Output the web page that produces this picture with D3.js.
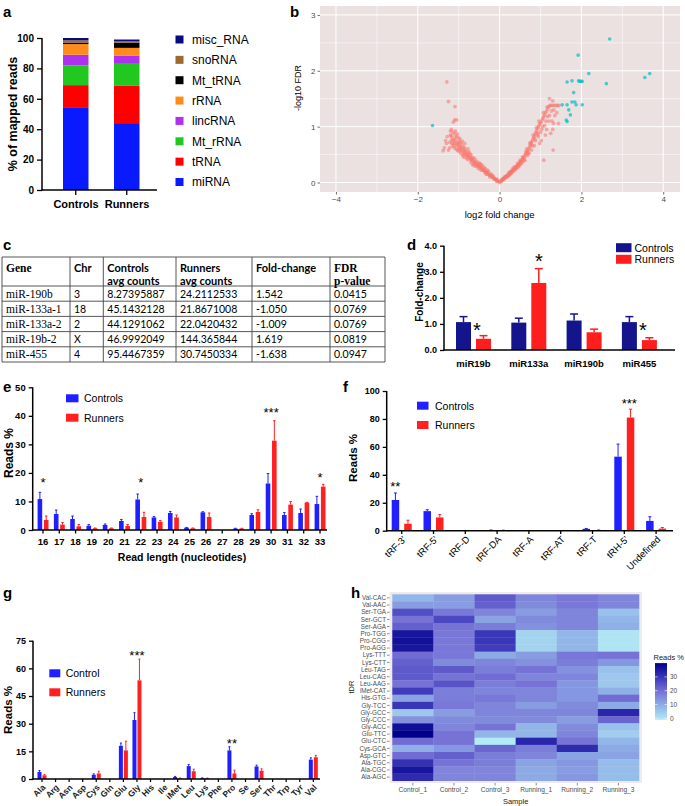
<!DOCTYPE html>
<html><head><meta charset="utf-8">
<script src="https://cdn.jsdelivr.net/npm/d3@7"></script>
<style>body{margin:0;background:#fff}svg{display:block}</style>
</head><body><svg id="c" width="685" height="806"></svg>
<script>
// ---------- DATA ----------
// panel a
const aCategories = ["Controls", "Runners"];
const aTypes = ["miRNA", "tRNA", "Mt_rRNA", "lincRNA", "rRNA", "Mt_tRNA", "snoRNA", "misc_RNA"];
const aControls = [54, 15, 13, 7, 7, 1, 1.5, 1.5];
const aRunners = [44, 24.5, 14.5, 5.5, 5, 3.5, 1, 1];
const aColors = ["#0a1aff", "#ff0000", "#20c820", "#b030f0", "#ff8c1a", "#000000", "#9c6a2a", "#0a0a80"];
const aTicks = [0, 20, 40, 60, 80, 100];

// panel b (volcano): [log2 fold change, -log10 FDR]
const bRed = [
 [0,0],[-0.03,0.02],[-0.06,0.03],[-0.09,0.05],[-0.11,0.07],[-0.13,0.06],[-0.15,0.09],[-0.17,0.1],[-0.19,0.1],[-0.21,0.12],
 [-0.23,0.14],[-0.25,0.13],[-0.27,0.16],[-0.29,0.15],[-0.31,0.18],[-0.33,0.19],[-0.35,0.2],[-0.36,0.18],[-0.38,0.22],[-0.4,0.23],
 [-0.42,0.22],[-0.44,0.26],[-0.46,0.27],[-0.48,0.26],[-0.5,0.29],[-0.52,0.31],[-0.54,0.3],[-0.56,0.34],[-0.58,0.33],[-0.6,0.36],
 [-0.62,0.37],[-0.63,0.34],[-0.65,0.4],[-0.67,0.39],[-0.69,0.42],[-0.71,0.41],[-0.72,0.46],[-0.74,0.44],[-0.76,0.48],[-0.78,0.47],
 [-0.8,0.51],[-0.82,0.49],[-0.84,0.55],[-0.86,0.52],[-0.88,0.58],[-0.9,0.55],[-0.92,0.61],[-0.94,0.57],[-0.96,0.63],[-0.98,0.66],
 [-1.0,0.62],[-1.02,0.68],[-1.04,0.72],[-1.06,0.66],[-1.08,0.75],[-1.1,0.7],[-1.12,0.77],[-1.14,0.74],[-1.16,0.81],[-1.18,0.76],
 [-1.2,0.85],[-1.05,0.83],[-1.1,0.87],[-1.22,0.72],[-1.25,0.58],[-1.35,0.62],[-1.38,0.57],[-1.2,0.92],[-1.13,1.08],[-1.05,1.12],
 [-1.1,1.12],[-1.09,1.36],[-1.25,1.45],[-1.29,1.8],[-0.95,0.72],[-0.85,0.62],[-0.7,0.5],[-0.55,0.38],[-0.45,0.32],[-0.66,0.32],
 [-0.78,0.41],[-0.9,0.48],[-1.0,0.56],[-1.15,0.65],[-1.3,0.7],[-0.3,0.22],[-0.2,0.15],[-0.38,0.27],[-0.75,0.55],[-0.83,0.58],
 [-0.93,0.68],[-1.18,0.95],[-1.08,0.92],[-1.28,0.82],[-0.64,0.44],[-0.57,0.29],[-0.48,0.34],[-0.87,0.45],[-0.99,0.74],[-1.06,0.6],
 [-0.6,0.42],[-0.62,0.3],[-0.7,0.36],[-0.73,0.52],[-0.77,0.6],[-0.81,0.44],[-0.85,0.7],[-0.88,0.5],[-0.91,0.74],[-0.95,0.52],
 [-0.97,0.78],[-1.01,0.7],[-1.03,0.58],[-1.07,0.8],[-1.11,0.62],[-1.17,0.7],[-1.19,0.84],[-1.22,0.62],[-1.32,0.75],[-0.52,0.25],
 [-0.5,0.34],[-0.45,0.22],[-0.42,0.3],[-0.35,0.25],[-0.33,0.15],[-0.27,0.2],[-0.24,0.1],[-0.16,0.12],[-0.14,0.07],[-0.08,0.06],
 [-0.07,0.02],[-0.04,0.04],[-0.68,0.45],[-0.79,0.53],[-0.89,0.64],[-0.97,0.59],[-1.12,0.68],[-1.0,0.8],[-1.03,0.87],[-1.14,0.9],
 [0.03,0.02],[0.05,0.04],[0.07,0.05],[0.09,0.06],[0.11,0.08],[0.13,0.08],[0.15,0.1],[0.17,0.11],[0.19,0.13],[0.21,0.14],
 [0.23,0.15],[0.25,0.17],[0.27,0.18],[0.29,0.2],[0.31,0.21],[0.33,0.22],[0.35,0.24],[0.37,0.26],[0.39,0.27],[0.41,0.29],
 [0.43,0.3],[0.45,0.32],[0.47,0.33],[0.49,0.36],[0.51,0.37],[0.53,0.39],[0.55,0.41],[0.57,0.43],[0.59,0.45],[0.61,0.47],
 [0.63,0.5],[0.65,0.52],[0.67,0.55],[0.69,0.57],[0.71,0.6],[0.73,0.63],[0.75,0.66],[0.77,0.69],[0.79,0.73],[0.81,0.77],
 [0.83,0.8],[0.85,0.83],[0.87,0.87],[0.89,0.9],[0.91,0.93],[0.93,0.97],[0.95,1.0],[0.97,1.03],[0.99,1.06],[1.01,1.08],
 [1.04,1.12],[1.06,1.15],[1.08,1.18],[1.1,1.21],[1.12,1.25],[1.15,1.28],[1.18,1.32],[1.2,1.36],[1.23,1.38],[1.26,1.38],
 [1.3,1.38],[1.34,1.38],[1.38,1.38],[1.42,1.38],[1.45,1.38],[1.22,1.5],[1.3,1.46],[1.32,1.06],[1.31,0.58],[1.08,0.4],
 [1.44,1.06],[1.3,0.95],[1.2,1.1],[1.35,1.2],[1.25,0.88],[1.15,0.95],[0.85,0.66],[0.95,0.82],[0.78,0.58],[0.68,0.48],
 [0.58,0.38],[0.48,0.3],[0.38,0.23],[0.28,0.16],[0.62,0.4],[0.72,0.52],[0.88,0.75],[1.0,0.9],[1.1,1.02],[0.2,0.11],
 [0.42,0.26],[0.52,0.33],[0.66,0.6],[0.76,0.72],[0.92,0.85],[1.05,1.0],[1.17,1.18],[1.02,0.75],[0.98,0.7],[1.12,0.85],
 [0.04,0.02],[0.06,0.05],[0.08,0.07],[0.1,0.05],[0.12,0.1],[0.14,0.09],[0.16,0.12],[0.18,0.1],[0.22,0.17],[0.24,0.13],
 [0.26,0.2],[0.3,0.18],[0.32,0.25],[0.34,0.2],[0.36,0.28],[0.4,0.25],[0.44,0.34],[0.46,0.28],[0.5,0.4],[0.54,0.35],
 [0.56,0.46],[0.6,0.42],[0.64,0.55],[0.7,0.52],[0.74,0.7],[0.8,0.66],[0.82,0.85],[0.86,0.78],[0.9,0.98],[0.94,0.88],
 [0.96,1.1],[1.03,0.95],[1.07,1.25],[1.13,1.1],[1.16,1.35],[1.22,1.2],[1.27,1.28],[1.33,1.3],[1.4,1.25],[1.28,1.1]
];
const bCyan = [
 [-1.64,1.02],[2.69,2.57],[1.92,2.28],[2.18,1.95],[1.93,1.82],[1.96,1.81],[1.99,1.81],[2.02,1.81],[1.77,1.82],[1.65,1.8],
 [2.61,1.77],[3.67,1.95],[3.55,1.88],[1.81,1.61],[1.84,1.44],[1.77,1.44],[1.53,1.39],[1.65,1.39],[1.87,1.39],[2.02,1.39],
 [1.69,1.3],[1.73,1.21],[1.65,1.09],[1.63,1.12]
];
const bXTicks = [-4, -2, 0, 2, 4];
const bYTicks = [0, 1, 2, 3];

// panel c (table)
const cHeader1 = ["Gene", "Chr", "Controls", "Runners", "Fold-change", "FDR"];
const cHeader2 = ["", "", "avg counts", "avg counts", "", "p-value"];
const cGenes = ["miR-190b", "miR-133a-1", "miR-133a-2", "miR-19b-2", "miR-455"];
const cChr = ["3", "18", "2", "X", "4"];
const cControlCounts = ["8.27395887", "45.1432128", "44.1291062", "46.9992049", "95.4467359"];
const cRunnerCounts = ["24.2112533", "21.8671008", "22.0420432", "144.365844", "30.7450334"];
const cFold = ["1.542", "-1.050", "-1.009", "1.619", "-1.638"];
const cFDR = ["0.0415", "0.0769", "0.0769", "0.0819", "0.0947"];

// panel d
const dGenes = ["miR19b", "miR133a", "miR190b", "miR455"];
const dControls = [1.07, 1.05, 1.13, 1.07];
const dControlsErr = [1.28, 1.22, 1.38, 1.28];
const dRunners = [0.43, 2.57, 0.68, 0.38];
const dRunnersErr = [0.55, 3.12, 0.8, 0.47];
const dStars = ["*", "*", "", "*"];
const dTicks = [0, 1, 2, 3, 4];

// panel e
const eLengths = ["16","17","18","19","20","21","22","23","24","25","26","27","28","29","30","31","32","33"];
const eControls = [10.85, 5.6, 3.85, 1.5, 1.75, 3.15, 10.7, 4.4, 5.95, 0.8, 6.2, 0, 0.5, 5.25, 16.3, 5.25, 5.95, 9.1];
const eControlsErr = [13.2, 7.0, 4.9, 1.9, 2.1, 3.7, 12.6, 4.7, 6.5, 0.9, 6.4, 0, 0.6, 5.7, 19.8, 6.1, 7.35, 11.8];
const eRunners = [3.5, 1.9, 1.3, 0.6, 0.6, 1.4, 4.55, 2.9, 4.4, 0.6, 4.55, 0, 0.5, 6.3, 31.3, 8.9, 9.6, 15.2];
const eRunnersErr = [4.9, 2.6, 1.9, 0.7, 0.7, 1.9, 6.2, 3.3, 5.25, 0.7, 5.95, 0, 0.6, 7.1, 38.3, 10.0, 9.7, 16.0];
const eStars = ["*","","","","","","*","","","","","","","","***","","","*"];
const eTicks = [0, 10, 20, 30, 40, 50];

// panel f
const fCategories = ["tRF-3'", "tRF-5'", "tRF-D", "tRF-DA", "tRF-A", "tRF-AT", "tRF-T", "tRH-5'", "Undefined"];
const fControls = [22, 14, 0, 0.4, 0, 0, 1.3, 53, 7];
const fControlsErr = [27, 15, 0, 0.5, 0, 0, 1.6, 62, 10];
const fRunners = [5, 9.5, 0, 0.3, 0, 0, 0.5, 81, 1.5];
const fRunnersErr = [7.5, 11.5, 0, 0.4, 0, 0, 0.6, 87, 2.3];
const fStars = ["**","","","","","","","***",""];
const fTicks = [0, 20, 40, 60, 80, 100];

// panel g
const gAmino = ["Ala","Arg","Asn","Asp","Cys","Gln","Glu","Gly","His","Ile","iMet","Leu","Lys","Phe","Pro","Se","Ser","Thr","Trp","Tyr","Val"];
const gControl = [3.8, 0, 0, 0, 2.3, 0, 18, 32, 0, 0, 1.1, 7, 0.5, 0, 15.5, 0, 6.8, 0, 0, 0, 10.5];
const gControlErr = [4.6, 0, 0, 0, 2.8, 0, 19.5, 36, 0, 0, 1.4, 7.8, 0.6, 0, 17.5, 0, 7.5, 0, 0, 0, 11.5];
const gRunners = [2, 0, 0, 0, 3, 0, 15.5, 53.5, 0, 0, 0.4, 4.2, 0.4, 0, 3, 0, 4.5, 0, 0, 0, 11.8];
const gRunnersErr = [2.5, 0, 0, 0, 4.2, 0, 20.5, 65, 0, 0, 0.5, 5.3, 0.5, 0, 4.8, 0, 5.5, 0, 0, 0, 12.8];
const gStars = ["","","","","","","","***","","","","","","","**","","","","","",""];
const gTicks = [0, 15, 30, 45, 60, 75];

// panel h (heatmap) rows top -> bottom, columns = samples
const hSamples = ["Control_1", "Control_2", "Control_3", "Running_1", "Running_2", "Running_3"];
const hRows = ["Val-CAC","Val-AAC","Ser-TGA","Ser-GCT","Ser-AGA","Pro-TGG","Pro-CGG","Pro-AGG","Lys-TTT","Lys-CTT",
 "Leu-TAG","Leu-CAG","Leu-AAG","iMet-CAT","His-GTG","Gly-TCC","Gly-GCC","Gly-CCC","Gly-ACC","Glu-TTC",
 "Glu-CTC","Cys-GCA","Asp-GTC","Ala-TGC","Ala-CGC","Ala-AGC"];
const hValues = [
 [9, 13, 24, 17, 19, 17],
 [13, 13, 23, 16, 19, 17],
 [26, 19, 17, 13, 17, 7],
 [20, 27, 12, 16, 17, 9],
 [23, 20, 18, 15, 17, 10],
 [36, 19, 30, 4, 9, 1],
 [37, 19, 30, 4, 9, 1],
 [36, 19, 29, 4, 9, 1],
 [21, 19, 11, 13, 19, 20],
 [23, 16, 17, 15, 18, 14],
 [24, 24, 18, 20, 15, 7],
 [24, 20, 21, 17, 17, 6],
 [20, 25, 18, 20, 14, 6],
 [29, 18, 17, 17, 14, 10],
 [12, 18, 19, 17, 14, 21],
 [30, 19, 17, 13, 16, 11],
 [6, 13, 17, 17, 17, 33],
 [15, 16, 16, 16, 13, 22],
 [37, 17, 20, 9, 16, 7],
 [40, 20, 9, 9, 17, 5],
 [21, 20, 0, 33, 20, 9],
 [10, 14, 22, 18, 32, 11],
 [21, 23, 18, 17, 12, 12],
 [31, 20, 18, 12, 14, 8],
 [36, 17, 17, 11, 13, 8],
 [32, 17, 17, 11, 14, 8]
];
const hLegendTicks = [0, 10, 20, 30];

// ---------- DRAW ----------
const FONT = '"Liberation Sans", Arial, sans-serif';
const svg = d3.select("#c").attr("font-family", FONT);
svg.append("rect").attr("width", 685).attr("height", 806).attr("fill", "#fff");

function txt(g, s, x, y, o = {}) {
  const t = g.append("text").attr("x", x).attr("y", y).text(s)
    .attr("font-size", o.size || 10).attr("fill", o.fill || "#000")
    .attr("font-weight", o.bold ? "bold" : "normal")
    .attr("text-anchor", o.anchor || "start");
  if (o.family) t.attr("font-family", o.family);
  if (o.rotate) t.attr("transform", `rotate(${o.rotate},${x},${y})`);
  return t;
}
function star(g, s, x, yc, size) {
  if (!s) return;
  txt(g, s, x, yc + size * 0.57, { size: size, anchor: "middle" });
}
function styleAxis(g, size, bold, color, width) {
  g.attr("font-family", FONT);
  g.select(".domain").remove();
  g.selectAll(".tick line").attr("stroke", color || "#000").attr("stroke-width", width || 1.3);
  g.selectAll(".tick text").attr("font-size", size).attr("fill", color || "#000")
    .attr("font-weight", bold ? "bold" : "normal");
}
function line(g, x1, y1, x2, y2, w, c) {
  g.append("line").attr("x1", x1).attr("y1", y1).attr("x2", x2).attr("y2", y2)
    .attr("stroke", c || "#000").attr("stroke-width", w || 1.4);
}

// panel labels
[["a",3,17],["b",290,17],["c",3,250],["d",407,250],["e",3,392],["f",343,392],["g",3,598],["h",351,598]]
  .forEach(([l,x,y]) => txt(svg, l, x, y, { size: 15, bold: true }));

// ===== Panel a =====
{
  const g = svg.append("g");
  const y = d3.scaleLinear().domain([0, 100]).range([190, 38]);
  const x = d3.scaleBand().domain(aCategories).range([50.25, 152.25]).paddingInner(0.5).paddingOuter(0.25);
  const rows = aCategories.map((c, i) => {
    const o = { cat: c };
    aTypes.forEach((t, j) => o[t] = (i === 0 ? aControls : aRunners)[j]);
    return o;
  });
  const stack = d3.stack().keys(aTypes)(rows);
  stack.forEach((layer, li) => {
    g.selectAll(null).data(layer).join("rect")
      .attr("x", d => x(d.data.cat)).attr("width", x.bandwidth())
      .attr("y", d => y(d[1])).attr("height", d => y(d[0]) - y(d[1]))
      .attr("fill", aColors[li]);
  });
  const ya = g.append("g").attr("transform", "translate(42,0)")
    .call(d3.axisLeft(y).tickValues(aTicks).tickSize(5).tickSizeOuter(0).tickPadding(3));
  styleAxis(ya, 10, true);
  line(g, 42, 38, 42, 190.7, 1.5);
  line(g, 41.3, 190, 157, 190, 1.5);
  aCategories.forEach(c => line(g, x(c) + x.bandwidth() / 2, 190, x(c) + x.bandwidth() / 2, 195, 1.3));
  txt(g, "Controls", 76, 208, { size: 11, bold: true, anchor: "middle" });
  txt(g, "Runners", 127, 208, { size: 11, bold: true, anchor: "middle" });
  txt(g, "% of mapped reads", 17, 114, { size: 12.5, bold: true, anchor: "middle", rotate: -90 });
  const legY = d3.scalePoint().domain(aTypes.slice().reverse()).range([39.5, 182]);
  aTypes.forEach((t, i) => {
    g.append("rect").attr("x", 175.5).attr("y", legY(t) - 4).attr("width", 8).attr("height", 8).attr("fill", aColors[i]);
    txt(g, t, 192, legY(t) + 4.3, { size: 12 });
  });
}

// ===== Panel b =====
{
  const g = svg.append("g");
  const x = d3.scaleLinear().domain([-4.39, 4.41]).range([320, 680]);
  const y = d3.scaleLinear().domain([-0.17, 3.16]).range([192, 6]);
  g.append("rect").attr("x", 320).attr("y", 6).attr("width", 360).attr("height", 186).attr("fill", "#ebe1e1");
  [-3, -1, 1, 3].forEach(v => line(g, x(v), 6, x(v), 192, 0.5, "#fff"));
  [0.5, 1.5, 2.5].forEach(v => line(g, 320, y(v), 680, y(v), 0.5, "#fff"));
  bXTicks.forEach(v => line(g, x(v), 6, x(v), 192, 1, "#fff"));
  bYTicks.forEach(v => line(g, 320, y(v), 680, y(v), 1, "#fff"));
  g.selectAll(null).data(bRed).join("circle")
    .attr("cx", d => x(d[0])).attr("cy", d => y(d[1])).attr("r", 1.9)
    .attr("fill", "#f8766d").attr("fill-opacity", 0.55);
  g.selectAll(null).data(bCyan).join("circle")
    .attr("cx", d => x(d[0])).attr("cy", d => y(d[1])).attr("r", 1.8)
    .attr("fill", "#00bfc4").attr("fill-opacity", 0.7);
  const xa = g.append("g").attr("transform", "translate(0,192)")
    .call(d3.axisBottom(x).tickValues(bXTicks).tickFormat(d3.format("d")).tickSize(2.5).tickSizeOuter(0).tickPadding(2));
  styleAxis(xa, 8, false, "#4d4d4d", 0.8);
  const ya = g.append("g").attr("transform", "translate(320,0)")
    .call(d3.axisLeft(y).tickValues(bYTicks).tickFormat(d3.format("d")).tickSize(2.5).tickSizeOuter(0).tickPadding(2));
  styleAxis(ya, 8, false, "#4d4d4d", 0.8);
  txt(g, "log2 fold change", x(0), 218, { size: 9.5, anchor: "middle" });
  txt(g, "-log10 FDR", 301, 88, { size: 9, anchor: "middle", rotate: -90 });
}

// ===== Panel c (table) =====
{
  const g = svg.append("g");
  const colX = [2, 70, 103.3, 176, 252, 330, 385];
  const rowY = [257, 286, 301.2, 316.4, 331.6, 346.8, 362];
  const SERIF = '"Liberation Serif", "Times New Roman", serif';
  const SANS = 'Lato, "Liberation Sans", sans-serif';
  rowY.forEach(yv => line(g, colX[0], yv, colX[6], yv, 0.9, "#444"));
  colX.forEach(xv => line(g, xv, rowY[0], xv, rowY[6], 0.9, "#444"));
  cHeader1.forEach((h, i) => {
    const serif = (i === 0 || i === 5);
    txt(g, h, colX[i] + 4, 272, { size: serif ? 11.5 : 11, bold: true, family: serif ? SERIF : SANS });
    if (cHeader2[i]) txt(g, cHeader2[i], colX[i] + 4, 285, { size: serif ? 11.5 : 11, bold: true, family: serif ? SERIF : SANS });
  });
  const cols = [cGenes, cChr, cControlCounts, cRunnerCounts, cFold, cFDR];
  cGenes.forEach((_, r) => {
    const yb = (rowY[r + 1] + rowY[r + 2]) / 2 + 4;
    cols.forEach((col, i) => {
      txt(g, col[r], colX[i] + 4, yb, { size: i === 0 ? 11.5 : 10.5, family: i === 0 ? SERIF : SANS });
    });
  });
}

// ===== Panel d =====
{
  const g = svg.append("g");
  const y = d3.scaleLinear().domain([0, 4]).range([350, 245.7]);
  const x = d3.scaleBand().domain(dGenes).range([445.85, 667.05]);
  const bw = 15;
  dGenes.forEach((gn, i) => {
    const c = x(gn) + x.bandwidth() / 2;
    const bars = [[c - 17.5, dControls[i], dControlsErr[i], "#14148c"], [c + 2.5, dRunners[i], dRunnersErr[i], "#ff1e1e"]];
    bars.forEach(([bx, v, e, col]) => {
      const m = bx + bw / 2;
      line(g, m, y(v), m, y(e), 1.5, col);
      line(g, m - 4, y(e), m + 4, y(e), 1.5, col);
      g.append("rect").attr("x", bx).attr("width", bw).attr("y", y(v)).attr("height", y(0) - y(v)).attr("fill", col);
    });
    const sx = dGenes[i] === "miR133a" ? c + 10 : c + 3.5;
    const sy = dGenes[i] === "miR133a" ? 256.7 : 325.5;
    star(g, dStars[i], sx, sy, 20);
    txt(g, gn, c, 367, { size: 9.5, bold: true, anchor: "middle" });
  });
  const ya = g.append("g").attr("transform", "translate(444,0)")
    .call(d3.axisLeft(y).tickValues(dTicks).tickSize(4).tickSizeOuter(0).tickPadding(3));
  styleAxis(ya, 9, true);
  line(g, 444, 245.7, 444, 350.7, 1.5);
  line(g, 443.3, 350, 675, 350, 1.5);
  txt(g, "Fold-change", 423, 292, { size: 10, bold: true, anchor: "middle", rotate: -90 });
  [["Controls", "#14148c", 247.7], ["Runners", "#ff1e1e", 259.3]].forEach(([l, col, yy]) => {
    g.append("rect").attr("x", 616).attr("y", yy - 4.5).attr("width", 15.5).attr("height", 9).attr("fill", col);
    txt(g, l, 634.5, yy + 3.8, { size: 10.5 });
  });
}

// grouped bar helper for e/f/g
function groupBars(g, x, y, cats, ctrl, ctrlE, run, runE, bw, offC, offR, capW) {
  cats.forEach((cat, i) => {
    const c = x(cat) + x.bandwidth() / 2;
    [[c + offC, ctrl[i], ctrlE[i], "#1f1fff"], [c + offR, run[i], runE[i], "#ff2020"]].forEach(([bx, v, e, col]) => {
      if (v <= 0) return;
      const m = bx + bw / 2;
      if (e > v) {
        line(g, m, y(v), m, y(e), 1, col);
        line(g, m - capW / 2, y(e), m + capW / 2, y(e), 1, col);
      }
      g.append("rect").attr("x", bx).attr("width", bw).attr("y", y(v)).attr("height", y(0) - y(v)).attr("fill", col);
    });
  });
}

// ===== Panel e =====
{
  const g = svg.append("g");
  const y = d3.scaleLinear().domain([0, 50]).range([530, 387.3]);
  const x = d3.scaleBand().domain(eLengths).range([34.85, 328.15]);
  groupBars(g, x, y, eLengths, eControls, eControlsErr, eRunners, eRunnersErr, 4.6, -5.4, 0.9, 2.5);
  const ya = g.append("g").attr("transform", "translate(32.7,0)")
    .call(d3.axisLeft(y).tickValues(eTicks).tickSize(4).tickSizeOuter(0).tickPadding(3));
  styleAxis(ya, 9.5, true);
  line(g, 32.7, 387.3, 32.7, 530.7, 1.5);
  line(g, 32, 530, 327, 530, 1.5);
  eLengths.forEach((l, i) => {
    const c = x(l) + x.bandwidth() / 2;
    line(g, c, 530, c, 533.5, 1.3);
    txt(g, l, c, 545, { size: 9.5, bold: true, anchor: "middle" });
    star(g, eStars[i], c, l === "30" ? 410 : (l === "33" ? 475 : 480), 13);
  });
  txt(g, "Read length (nucleotides)", 182, 561, { size: 10.5, bold: true, anchor: "middle" });
  txt(g, "Reads %", 13, 453, { size: 12, bold: true, anchor: "middle", rotate: -90 });
  [["Controls", "#1f1fff", 398.3], ["Runners", "#ff2020", 417.7]].forEach(([l, col, yy]) => {
    g.append("rect").attr("x", 66).attr("y", yy - 4).attr("width", 12.5).attr("height", 8).attr("fill", col);
    txt(g, l, 84, yy + 4, { size: 10.5 });
  });
}

// ===== Panel f =====
{
  const g = svg.append("g");
  const y = d3.scaleLinear().domain([0, 100]).range([530.7, 391]);
  const x = d3.scaleBand().domain(fCategories).range([385.8, 672]);
  groupBars(g, x, y, fCategories, fControls, fControlsErr, fRunners, fRunnersErr, 7.5, -10, 2.5, 3);
  const ya = g.append("g").attr("transform", "translate(386.7,0)")
    .call(d3.axisLeft(y).tickValues(fTicks).tickSize(4).tickSizeOuter(0).tickPadding(3));
  styleAxis(ya, 9, true);
  line(g, 386.7, 391, 386.7, 531.4, 1.5);
  line(g, 386, 530.7, 673, 530.7, 1.5);
  fCategories.forEach((l, i) => {
    const c = x(l) + x.bandwidth() / 2;
    line(g, c, 530.7, c, 534, 1.3);
    txt(g, l, c + 5, 540, { size: 9.5, anchor: "end", rotate: -45 });
    star(g, fStars[i], l === "tRF-3'" ? c - 6.5 : c + 5, l === "tRF-3'" ? 484 : 400.7, 13);
  });
  txt(g, "Reads %", 357, 458, { size: 11.5, bold: true, anchor: "middle", rotate: -90 });
  [["Controls", "#1f1fff", 405.7], ["Runners", "#ff2020", 425]].forEach(([l, col, yy]) => {
    g.append("rect").attr("x", 417).attr("y", yy - 4).attr("width", 11.5).attr("height", 8).attr("fill", col);
    txt(g, l, 435, yy + 4, { size: 10.5 });
  });
}

// ===== Panel g =====
{
  const g = svg.append("g");
  const y = d3.scaleLinear().domain([0, 75]).range([779, 640.7]);
  const x = d3.scaleBand().domain(gAmino).range([35.2, 320.1]);
  groupBars(g, x, y, gAmino, gControl, gControlErr, gRunners, gRunnersErr, 4, -4.5, 0.5, 2);
  const ya = g.append("g").attr("transform", "translate(33,0)")
    .call(d3.axisLeft(y).tickValues(gTicks).tickSize(4).tickSizeOuter(0).tickPadding(3));
  styleAxis(ya, 9, true);
  line(g, 33, 640.7, 33, 779.7, 1.5);
  line(g, 32.3, 779, 320, 779, 1.5);
  gAmino.forEach((l, i) => {
    const c = x(l) + x.bandwidth() / 2;
    line(g, c, 779, c, 782, 1.2);
    txt(g, l, c + 4, 788, { size: 8.5, bold: true, anchor: "end", rotate: -45, fill: "#222" });
    star(g, gStars[i], c, l === "Gly" ? 652.7 : 741, 13);
  });
  txt(g, "Reads %", 12, 710, { size: 11.5, bold: true, anchor: "middle", rotate: -90 });
  [["Control", "#1f1fff", 673.3], ["Runners", "#ff2020", 692.3]].forEach(([l, col, yy]) => {
    g.append("rect").attr("x", 49.3).attr("y", yy - 4).attr("width", 11).attr("height", 8).attr("fill", col);
    txt(g, l, 65.7, yy + 4, { size: 10.5 });
  });
}

// ===== Panel h =====
{
  const g = svg.append("g");
  const x = d3.scaleBand().domain(hSamples).range([392.3, 639]);
  const y = d3.scaleBand().domain(hRows).range([594.3, 780.7]);
  const color = d3.scaleLinear().domain([0, 10, 20, 30, 40])
    .range(["#b2eaf5", "#8fb0e6", "#7672d6", "#3a36b8", "#00008b"]);
  g.append("rect").attr("x", 389.5).attr("y", 592).attr("width", 252.5).attr("height", 191).attr("fill", "#f0ebeb");
  hRows.forEach((r, ri) => {
    hSamples.forEach((s, si) => {
      g.append("rect").attr("x", x(s)).attr("y", y(r)).attr("width", x.bandwidth() + 0.3).attr("height", y.bandwidth() + 0.3)
        .attr("fill", color(hValues[ri][si]));
    });
    const yc = y(r) + y.bandwidth() / 2;
    line(g, 387, yc, 389.5, yc, 0.6, "#444");
    txt(g, r, 386, yc + 2.2, { size: 6.3, anchor: "end", fill: "#4d4d4d" });
  });
  hSamples.forEach(s => {
    const xc = x(s) + x.bandwidth() / 2;
    line(g, xc, 783, xc, 785.5, 0.6, "#444");
    txt(g, s, xc, 792, { size: 6.6, anchor: "middle", fill: "#4d4d4d" });
  });
  txt(g, "Sample", 515.6, 803.5, { size: 7.5, anchor: "middle", fill: "#222" });
  txt(g, "tDR", 354, 687, { size: 7.5, anchor: "middle", rotate: -90, fill: "#222" });
  const ly = d3.scaleLinear().domain([0, 40]).range([718.3, 663.1]);
  const grad = svg.append("defs").append("linearGradient").attr("id", "hgrad")
    .attr("x1", 0).attr("y1", 1).attr("x2", 0).attr("y2", 0);
  [0, 10, 20, 30, 40].forEach(v => grad.append("stop").attr("offset", v / 40).attr("stop-color", color(v)));
  g.append("rect").attr("x", 655).attr("y", ly(40)).attr("width", 12).attr("height", ly(0) - ly(40) + 1.5).attr("fill", "url(#hgrad)");
  txt(g, "Reads %", 653.5, 660, { size: 7.5, fill: "#222" });
  hLegendTicks.forEach(v => {
    line(g, 655, ly(v), 657.5, ly(v), 0.6, "#fff");
    line(g, 664.5, ly(v), 667, ly(v), 0.6, "#fff");
    txt(g, String(v), 670, ly(v) + 2.4, { size: 6.5, fill: "#4d4d4d" });
  });
}
</script></body></html>
